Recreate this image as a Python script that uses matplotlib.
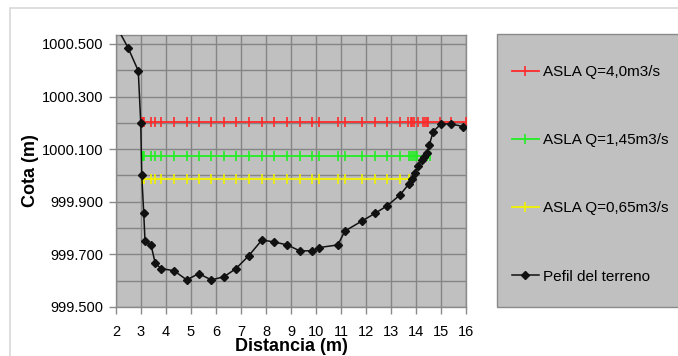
import matplotlib
matplotlib.use("Agg")
import matplotlib.pyplot as plt
from matplotlib.lines import Line2D
from matplotlib.patches import Rectangle
from matplotlib.ticker import MultipleLocator, FixedLocator, FormatStrFormatter

plt.rcParams['font.family'] = ['Liberation Sans', 'DejaVu Sans']

# Terrain profile
terr_x = [2.0, 2.48, 2.89, 2.99, 3.03, 3.11, 3.16, 3.40, 3.57, 3.81, 4.32, 4.83, 5.31,
          5.81, 6.32, 6.80, 7.31, 7.84, 8.33, 8.85, 9.36, 9.85, 10.13, 10.87, 11.16,
          11.84, 12.36, 12.85, 13.36, 13.71, 13.85, 13.96, 14.07, 14.23, 14.33, 14.43,
          14.53, 14.69, 15.0, 15.4, 15.89]
terr_y = [1000.57, 1000.486, 1000.398, 1000.20, 1000.00, 999.856, 999.751, 999.736,
          999.666, 999.646, 999.638, 999.603, 999.627, 999.603, 999.615, 999.646,
          999.695, 999.755, 999.747, 999.736, 999.713, 999.714, 999.726, 999.736,
          999.789, 999.827, 999.856, 999.885, 999.926, 999.967, 999.986, 1000.011,
          1000.036, 1000.059, 1000.071, 1000.084, 1000.116, 1000.167, 1000.196,
          1000.196, 1000.186]

# Water surface levels (ASLA)
q40_x = [3.05, 3.09, 3.11, 3.40, 3.57, 3.81, 4.32, 4.83, 5.31, 5.81, 6.32, 6.80, 7.31,
         7.84, 8.33, 8.85, 9.36, 9.85, 10.13, 10.87, 11.16, 11.84, 12.36, 12.83, 13.36,
         13.69, 13.79, 13.85, 13.93, 14.09, 14.29, 14.36, 14.43, 14.49, 14.96, 15.4, 16.0]
q40_level = 1000.202
q145_x = [3.05, 3.09, 3.11, 3.40, 3.57, 3.81, 4.32, 4.83, 5.31, 5.81, 6.32, 6.80, 7.31,
          7.84, 8.33, 8.85, 9.36, 9.85, 10.13, 10.87, 11.16, 11.84, 12.36, 12.85, 13.36,
          13.71, 13.80, 13.88, 13.96, 14.05, 14.43, 14.56]
q145_level = 1000.075
q065_x = [3.05, 3.09, 3.11, 3.40, 3.57, 3.81, 4.32, 4.83, 5.31, 5.81, 6.32, 6.80, 7.31,
          7.84, 8.33, 8.85, 9.36, 9.85, 10.13, 10.87, 11.16, 11.84, 12.36, 12.85, 13.36,
          13.71]
q065_level = 999.988

y_ticks = [999.5, 999.7, 999.9, 1000.1, 1000.3, 1000.5]
x_ticks = [2, 3, 4, 5, 6, 7, 8, 9, 10, 11, 12, 13, 14, 15, 16]

labels = ["ASLA Q=4,0m3/s", "ASLA Q=1,45m3/s", "ASLA Q=0,65m3/s", "Pefil del terreno"]
colors = ["#ff2a2a", "#22ee22", "#f2f200", "#000000"]

W, H = 678, 356
fig = plt.figure(figsize=(W / 100, H / 100), dpi=100)

def fx(px):
    return px / W

def fy(py):
    return 1 - py / H

# outer chart frame
fig.patches.append(Rectangle((fx(10), fy(400)), fx(720), fy(8) - fy(400),
                             transform=fig.transFigure, facecolor='none',
                             edgecolor='#d8d8d8', lw=1.2, zorder=0))

ax = fig.add_axes([fx(116), fy(307), fx(466) - fx(116), fy(35) - fy(307)])
ax.set_zorder(3)
ax.set_facecolor('#c0c0c0')
ax.set_xlim(2, 16)
ax.set_ylim(999.5, 1000.534)

ax.xaxis.set_major_locator(FixedLocator(x_ticks))
ax.yaxis.set_major_locator(FixedLocator(y_ticks))
ax.yaxis.set_minor_locator(MultipleLocator(0.1))
ax.yaxis.set_major_formatter(FormatStrFormatter('%.3f'))
ax.grid(True, which='both', color='#858585', lw=1.0)
ax.set_axisbelow(True)
for s in ax.spines.values():
    s.set_color('#8a8a8a')
    s.set_linewidth(1.0)
ax.tick_params(axis='both', which='major', labelsize=10.5, length=5, color='#8a8a8a',
               width=1.0)
ax.tick_params(axis='y', which='minor', length=0)
ax.tick_params(axis='x', pad=8)
ax.tick_params(axis='y', pad=4)

lw = 1.3
ax.plot(q40_x, [q40_level] * len(q40_x), color=colors[0], lw=lw, marker='|',
        markersize=7, mew=1.2, clip_on=False, zorder=3)
ax.plot(q145_x, [q145_level] * len(q145_x), color=colors[1], lw=lw, marker='|',
        markersize=7, mew=1.2, zorder=3)
ax.plot(q065_x, [q065_level] * len(q065_x), color=colors[2], lw=lw, marker='|',
        markersize=7, mew=1.2, zorder=3)
ax.plot(terr_x, terr_y, color='#111111', lw=1.1, marker='D', markersize=4.2, zorder=4)

ax.set_xlabel('Distancia (m)', fontsize=13, fontweight='bold', labelpad=-1)
ax.set_ylabel('Cota (m)', fontsize=13, fontweight='bold', labelpad=2)

# legend box
fig.patches.append(Rectangle((fx(497), fy(307.3)), fx(300), fy(33.5) - fy(307.3),
                             transform=fig.transFigure, facecolor='#c0c0c0',
                             edgecolor='#8a8a8a', lw=1.0, zorder=1))
handles = [Line2D([], [], color=colors[0], lw=lw, marker='|', markersize=7, mew=1.2),
           Line2D([], [], color=colors[1], lw=lw, marker='|', markersize=7, mew=1.2),
           Line2D([], [], color=colors[2], lw=lw, marker='|', markersize=7, mew=1.2),
           Line2D([], [], color='#111111', lw=1.1, marker='D', markersize=4.2)]
leg = fig.legend(handles, labels, loc='upper left',
                 bbox_to_anchor=(fx(512), fy(65)), frameon=False, fontsize=11,
                 handlelength=1.75, handletextpad=0.3, labelspacing=3.55,
                 borderaxespad=0, borderpad=0)
leg.set_zorder(5)

fig.savefig('out.png', dpi=100)
